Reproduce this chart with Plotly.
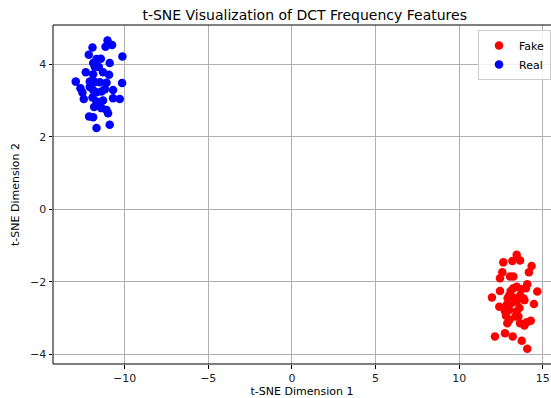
import plotly.graph_objects as go

fake_x = [13.44, 12.64, 13.18, 13.64, 14.33, 12.58, 14.17, 12.44, 13.04, 13.24,
          14.07, 13.44, 13.99, 12.44, 13.08, 13.24, 14.67, 11.96, 12.99, 13.20,
          13.64, 13.83, 12.40, 12.84, 13.14, 13.44, 13.90, 14.47, 12.74, 12.99,
          13.44, 13.60, 12.80, 13.54, 14.04, 14.28, 12.88, 13.64, 13.90, 12.14,
          12.74, 13.20, 13.74, 14.07, 13.00, 13.35, 12.90, 13.70]
fake_y = [-1.25, -1.46, -1.42, -1.41, -1.56, -1.73, -1.73, -1.90, -1.85, -1.85,
          -2.06, -2.13, -2.17, -2.25, -2.25, -2.17, -2.26, -2.43, -2.37, -2.43,
          -2.37, -2.45, -2.68, -2.63, -2.58, -2.54, -2.50, -2.61, -2.81, -2.77,
          -2.81, -2.72, -2.93, -2.95, -3.11, -3.07, -3.14, -3.14, -3.20, -3.50,
          -3.41, -3.50, -3.62, -3.84, -3.05, -2.95, -2.45, -2.20]

real_x = [-11.02, -10.75, -11.14, -11.92, -10.13, -12.14, -11.68, -11.42, -11.88, -10.89,
          -11.78, -11.54, -12.32, -11.88, -11.29, -10.93, -12.92, -12.08, -11.78, -11.48,
          -11.08, -10.15, -12.64, -12.08, -11.88, -11.18, -10.69, -12.52, -11.68, -11.38,
          -12.44, -11.92, -10.69, -10.29, -11.68, -11.29, -11.58, -11.82, -11.38, -11.08,
          -10.99, -12.12, -11.88, -10.89, -11.68]
real_y = [4.65, 4.53, 4.48, 4.46, 4.21, 4.26, 4.14, 4.15, 4.03, 4.03,
          3.93, 3.92, 3.78, 3.72, 3.78, 3.71, 3.52, 3.52, 3.51, 3.50,
          3.49, 3.48, 3.34, 3.37, 3.29, 3.31, 3.29, 3.22, 3.23, 3.25,
          3.04, 3.08, 3.06, 3.04, 2.97, 3.00, 2.85, 2.82, 2.79, 2.74,
          2.65, 2.56, 2.54, 2.33, 2.24]

x_ticks = [-10, -5, 0, 5, 10, 15]
y_ticks = [-4, -2, 0, 2, 4]

def lab(v):
    return ("\u2212" + str(abs(v))) if v < 0 else str(v)

fig = go.Figure()
fig.add_trace(go.Scatter(x=fake_x, y=fake_y, mode="markers", name="Fake",
                         marker=dict(color="red", size=8.5, line=dict(width=0))))
fig.add_trace(go.Scatter(x=real_x, y=real_y, mode="markers", name="Real",
                         marker=dict(color="blue", size=8.5, line=dict(width=0))))

axis_common = dict(showgrid=True, gridcolor="#b0b0b0", gridwidth=0.8, zeroline=False,
                   showline=False,
                   ticks="outside", ticklen=3.5, tickcolor="black",
                   tickfont=dict(family="DejaVu Sans", size=11, color="#222"))

# frame: left, bottom, top spines (right side is cropped off in the reference)
frame = [
    dict(type="line", xref="paper", yref="paper", x0=0, x1=0, y0=0, y1=1),
    dict(type="line", xref="paper", yref="paper", x0=0, x1=1, y0=0, y1=0),
    dict(type="line", xref="paper", yref="paper", x0=0, x1=1, y0=1, y1=1),
]
for s in frame:
    s["line"] = dict(color="black", width=1)

fig.update_layout(
    width=551, height=398,
    margin=dict(l=53, r=0, t=25, b=34),
    paper_bgcolor="white", plot_bgcolor="white",
    shapes=frame,
    title=dict(text="t-SNE Visualization of DCT Frequency Features",
               x=0.553, xanchor="center", y=0.962, yanchor="middle",
               font=dict(family="DejaVu Sans", size=14, color="black")),
    xaxis=dict(range=[-14.28, 15.49], tickvals=x_ticks, ticktext=[lab(v) for v in x_ticks],
               title=dict(text="t-SNE Dimension 1", standoff=6,
                          font=dict(family="DejaVu Sans", size=11, color="black")),
               **axis_common),
    yaxis=dict(range=[-4.26, 5.08], tickvals=y_ticks, ticktext=[lab(v) for v in y_ticks],
               title=dict(text="t-SNE Dimension 2", standoff=8,
                          font=dict(family="DejaVu Sans", size=11, color="black")),
               **axis_common),
    legend=dict(x=1.0, y=0.985, xanchor="right", yanchor="top",
                bgcolor="rgba(255,255,255,0.8)", bordercolor="#cccccc", borderwidth=1,
                font=dict(family="DejaVu Sans", size=11, color="black"),
                itemwidth=30, tracegroupgap=0),
    showlegend=True,
)

fig.write_html("out.html")
